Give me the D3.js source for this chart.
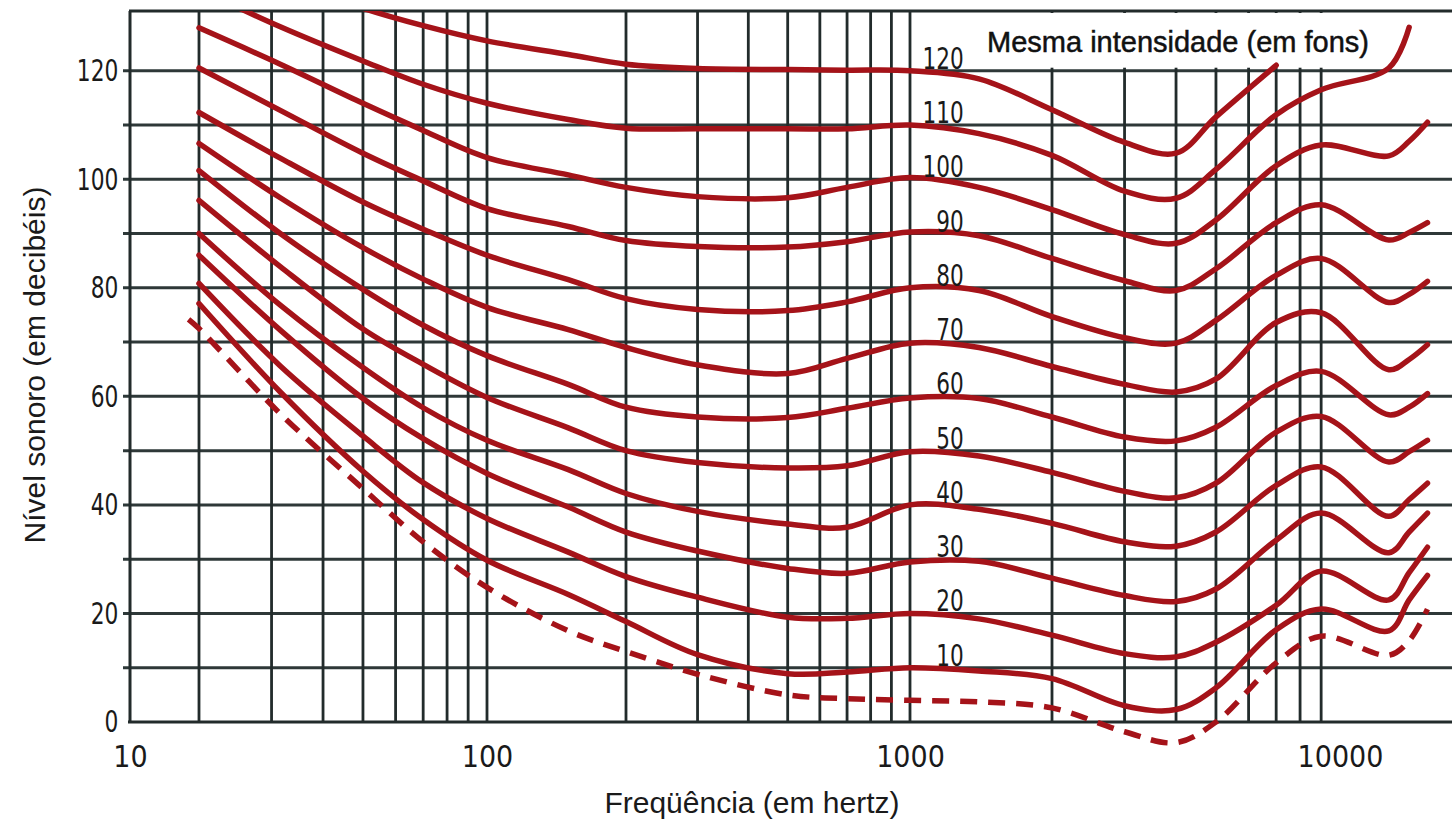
<!DOCTYPE html>
<html>
<head>
<meta charset="utf-8">
<script src="https://cdn.jsdelivr.net/npm/d3@7"></script>
<style>
    body { margin: 0; background: #fff; }
    .axis text { font-family: "DejaVu Sans Condensed", "Liberation Sans Narrow", sans-serif; fill: #1a1a1a; }
    .x-axis text { font-size: 30px; }
    .y-axis text { font-size: 31px; }
    .axis-title { font-family: "Liberation Sans", Arial, sans-serif; font-size: 30px; fill: #1a1a1a; }
    .legend-title { font-family: "Liberation Sans", Arial, sans-serif; font-size: 29px; fill: #111; stroke: #111; stroke-width: 0.5px; }
    .curve-label { font-family: "DejaVu Sans Condensed", "Liberation Sans Narrow", sans-serif; font-size: 30px; fill: #1a1a1a; }
</style>
</head>
<body>
<div class="loudness-chart"></div>
<script>
const freqs = [18, 20, 31.5, 50, 70, 100, 150, 200, 300, 500, 700, 1000, 1400, 2000, 3000, 4000, 5000, 7000, 9000, 13000, 14500, 16000];

// sound level (dB) of each equal loudness curve, null = not drawn
const phon120 = [null, null, 137, 131.5, 128.3, 125.5, 123, 121.2, 120.4, 120.2, 120.1, 120, 118.5, 112.8, 106.8, 104.8, 111.5, 121, null, null, null, null];
const phon110 = [null, 135, 128.1, 121.8, 117.5, 114, 111, 109.4, 109.3, 109.3, 109.3, 110, 108.4, 104.4, 97.8, 96.5, 101.8, 111.9, 116.5, 120.5, 128, null];
const phon100 = [null, 127.9, 121.2, 114, 109, 104, 100.8, 98.5, 96.8, 96.6, 98.5, 100.3, 98.5, 94.4, 89.8, 88.2, 92.5, 102.5, 106.3, 104.3, 107, 110.5];
const phon90 = [null, 120.5, 112.7, 104.8, 99.7, 94.6, 91.3, 88.7, 87.6, 87.5, 88.5, 90.3, 89.6, 85.4, 81.3, 79.5, 83.5, 92, 95.3, 88.8, 90.2, 92];
const phon80 = [null, 112.3, 103.9, 95.8, 90.8, 86, 81.5, 78, 76, 75.8, 77.4, 80, 79.5, 74.7, 70.8, 69.8, 74, 82.3, 85.4, 77.3, 78.8, 81.2];
const phon70 = [null, 106.6, 96.6, 87.4, 81.6, 76.4, 72.3, 69, 65.8, 64.2, 67, 69.8, 69, 65.5, 62.2, 60.8, 63.2, 73.6, 75.4, 64.9, 66.8, 69.5];
const phon60 = [null, 101.6, 90, 79.7, 73.1, 67.5, 62.2, 58, 56.2, 56.1, 57.8, 59.7, 59.6, 56.2, 52.5, 51.8, 54.3, 62, 64.6, 56.6, 58, 60.5];
const phon50 = [null, 96.1, 83.9, 72.4, 65.9, 59.8, 54.2, 50, 47.8, 46.8, 47.2, 49.8, 49, 46, 42.5, 41.3, 44, 53.4, 56.3, 47.9, 49.8, 51.9];
const phon40 = [null, 90, 76.8, 65.3, 57.9, 51.9, 46.5, 42.1, 38.8, 36.5, 35.9, 40, 39.2, 36.6, 33.2, 32.4, 35, 43.6, 47, 37.9, 41, 44];
const phon30 = [null, 86, 72.2, 59.6, 52.2, 45.8, 39.6, 35, 31.5, 28.3, 27.4, 29.5, 29.6, 26.5, 23.3, 22.2, 24.5, 33.5, 38.5, 31.2, 35, 38.5];
const phon20 = [null, 80.8, 65.6, 52.7, 44.1, 37.5, 31.3, 26.8, 23, 19.3, 19.1, 20, 19, 16, 12.6, 12, 14.7, 21.5, 27.8, 22.5, 27.5, 32.2];
const phon10 = [null, 77.1, 60.8, 46.2, 37.3, 29.8, 23.5, 18.5, 12.4, 8.9, 9.2, 10, 9.4, 8, 3, 2.3, 6.3, 17, 20.8, 16.8, 22.5, 27];
// hearing threshold (dashed)
const threshold = [74.2, 72.5, 56.8, 43, 33.2, 24.8, 16.8, 13, 8.8, 5, 4.3, 4, 3.7, 2.6, -1.8, -3.8, 0, 10.9, 15.8, 12.3, 15, 20.8];

const phonLevels = [120, 110, 100, 90, 80, 70, 60, 50, 40, 30, 20, 10];
const phonCurves = [phon120, phon110, phon100, phon90, phon80, phon70, phon60, phon50, phon40, phon30, phon20, phon10];

const yTicks = [0, 20, 40, 60, 80, 100, 120];
const yGrid = [10, 20, 30, 40, 50, 60, 70, 80, 90, 100, 110, 120];
const xTicks = [10, 100, 1000, 10000];
const xGrid = [20, 30, 40, 50, 60, 70, 80, 90,
               100, 200, 300, 400, 500, 600, 700, 800, 900,
               1000, 2000, 3000, 4000, 5000, 6000, 7000, 8000, 9000];

function main(){
    //CHART INIT
    const width = 1452;
    const height = 828;
    const red = "#a51319";
    const gridColor = "#222b2b";

    const svg = d3.select(".loudness-chart")
                    .append("svg")
                    .attr("width", width)
                    .attr("height", height);

    // the printed axis is hand drawn: each decade has its own length
    const xScale = d3.scaleLog()
                    .domain([10, 20, 100, 200, 1000, 2000, 10000, 20000])
                    .range([130, 199, 487, 626, 910, 1052, 1340, 1469]);

    const yScale = d3.scaleLinear()
                    .domain([0, 131])
                    .range([722, 11]);

    const top = yScale(131);
    const bottom = yScale(0);
    const left = xScale(10);

    svg.append("clipPath")
        .attr("id", "plot-clip")
        .append("rect")
        .attr("x", 0)
        .attr("y", top)
        .attr("width", width)
        .attr("height", height - top);

    //GRID
    svg.selectAll(".h-grid")
        .data(yGrid)
        .enter()
        .append("line")
        .attr("class", "h-grid")
        .attr("x1", left - 7)
        .attr("x2", width)
        .attr("y1", d => yScale(d))
        .attr("y2", d => yScale(d))
        .attr("stroke", "#2e3838")
        .attr("stroke-width", 3);

    svg.selectAll(".v-grid")
        .data(xGrid)
        .enter()
        .append("line")
        .attr("class", "v-grid")
        .attr("x1", d => xScale(d))
        .attr("x2", d => xScale(d))
        .attr("y1", top)
        .attr("y2", bottom)
        .attr("stroke", gridColor)
        .attr("stroke-width", 2.8);

    // frame: left, bottom, top
    svg.append("line")
        .attr("x1", left).attr("x2", left)
        .attr("y1", top).attr("y2", bottom)
        .attr("stroke", gridColor).attr("stroke-width", 3);
    svg.append("line")
        .attr("x1", left - 2).attr("x2", width)
        .attr("y1", bottom).attr("y2", bottom)
        .attr("stroke", gridColor).attr("stroke-width", 3);
    svg.append("line")
        .attr("x1", left - 1).attr("x2", width)
        .attr("y1", top).attr("y2", top)
        .attr("stroke", gridColor).attr("stroke-width", 3);

    //LEGEND BOX
    svg.append("rect")
        .attr("x", 975)
        .attr("y", top + 2)
        .attr("width", width - 975)
        .attr("height", yScale(120) - 3 - (top + 2))
        .attr("fill", "#fff");

    svg.append("text")
        .attr("class", "legend-title")
        .attr("x", 987)
        .attr("y", 52)
        .text("Mesma intensidade (em fons)");

    //CURVES
    const line = d3.line()
                    .defined(d => d[1] != null)
                    .x(d => xScale(d[0]))
                    .y(d => yScale(d[1]))
                    .curve(d3.curveCatmullRom.alpha(0.5));

    const curves = svg.append("g").attr("clip-path", "url(#plot-clip)");

    curves.selectAll(".phon-curve")
        .data(phonCurves)
        .enter()
        .append("path")
        .attr("class", "phon-curve")
        .attr("d", vals => line(freqs.map((f, i) => [f, vals[i]])))
        .attr("fill", "none")
        .attr("stroke", red)
        .attr("stroke-width", 5.5)
        .attr("stroke-linecap", "round");

    curves.append("path")
        .attr("class", "threshold")
        .attr("d", line(freqs.map((f, i) => [f, threshold[i]])))
        .attr("fill", "none")
        .attr("stroke", red)
        .attr("stroke-width", 5.5)
        .attr("stroke-dasharray", "17 11");

    //CURVE LABELS (narrow lettering, squeezed horizontally)
    svg.selectAll(".curve-label")
        .data(phonLevels)
        .enter()
        .append("text")
        .attr("class", "curve-label")
        .attr("transform", d => `translate(${xScale(1300)}, ${yScale(d) - 2}) scale(0.8, 1)`)
        .attr("text-anchor", "end")
        .text(d => d);

    //AXES
    const yAxis = d3.axisLeft(yScale)
                    .tickValues(yTicks)
                    .tickSize(0)
                    .tickPadding(15);

    svg.append("g")
        .attr("class", "axis y-axis")
        .attr("transform", `translate(${left}, 0)`)
        .call(yAxis)
        .call(g => g.select(".domain").remove())
        .call(g => g.selectAll(".tick text").attr("transform", "scale(0.78, 1)"));

    const xAxis = d3.axisBottom(xScale)
                    .tickValues(xTicks)
                    .tickFormat(d3.format("d"))
                    .tickSize(0)
                    .tickPadding(24);

    svg.append("g")
        .attr("class", "axis x-axis")
        .attr("transform", `translate(0, ${bottom})`)
        .call(xAxis)
        .call(g => g.select(".domain").remove());

    svg.append("text")
        .attr("class", "axis-title")
        .attr("x", 752)
        .attr("y", 813)
        .attr("text-anchor", "middle")
        .text("Freqüência (em hertz)");

    svg.append("text")
        .attr("class", "axis-title")
        .attr("transform", "translate(45, 365) rotate(-90)")
        .attr("text-anchor", "middle")
        .text("Nível sonoro (em decibéis)");
}

main();
</script>
</body>
</html>
